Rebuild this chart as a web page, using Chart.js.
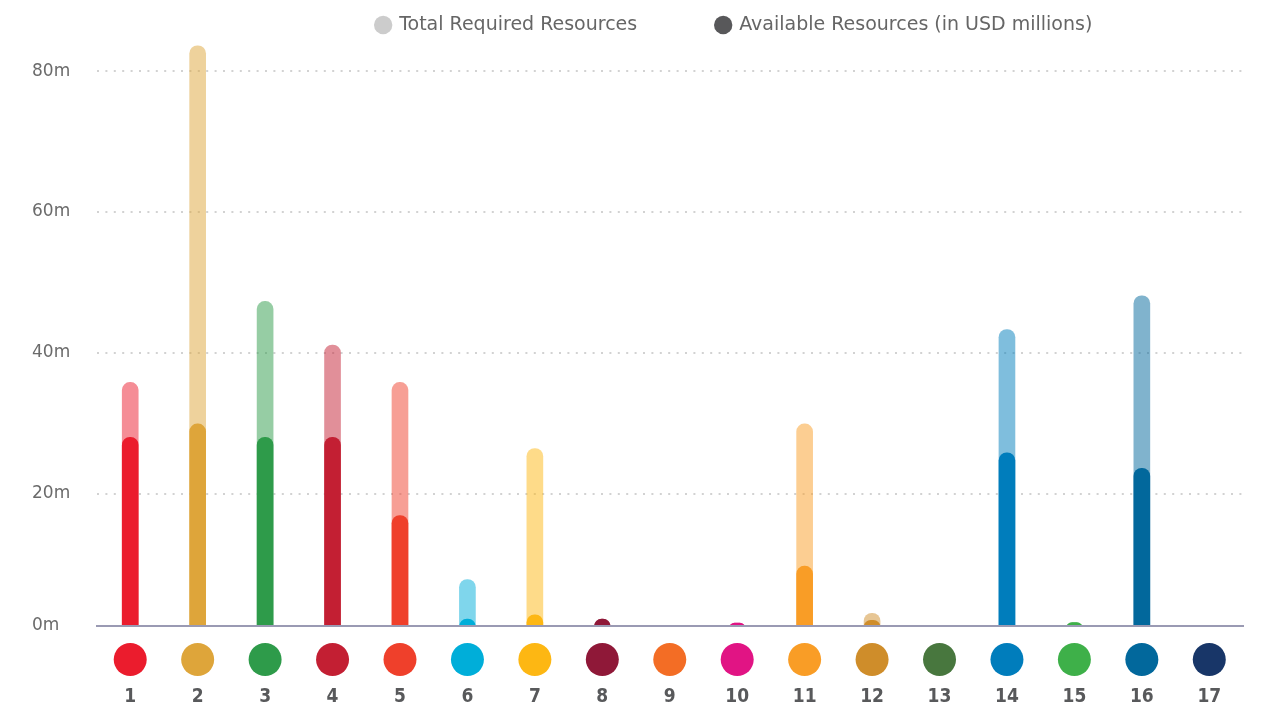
<!DOCTYPE html>
<html>
<head>
<meta charset="utf-8">
<script src="https://cdn.jsdelivr.net/npm/chart.js@4"></script>
<style>
html, body { margin: 0; padding: 0; background: #ffffff; }
canvas { display: block; }
</style>
</head>
<body>
<canvas id="chart" width="1268" height="713"></canvas>
<script>
// ---- data ----
const categories = ['1','2','3','4','5','6','7','8','9','10','11','12','13','14','15','16','17'];
const totalRequired = [35.8, 83.6, 47.3, 41.1, 35.8, 7.8, 26.4, 2.2, 0, 1.6, 29.9, 3.0, 0, 43.3, 1.7, 48.1, 0];
const availableResources = [28.0, 29.9, 28.0, 28.0, 16.9, 2.2, 2.8, 2.2, 0, 1.6, 9.7, 2.0, 0, 25.8, 1.7, 23.6, 0];
const seriesLabels = ['Total Required Resources', 'Available Resources (in USD millions)'];
const yTickValues = [1.2, 20, 40, 60, 80];
const yTickLabels = ['0m', '20m', '40m', '60m', '80m'];

// ---- styles ----
const goalColors = ['#EB1C2D','#DEA53A','#2E9B4A','#C31F33','#EF402B','#00AED9','#FDB713','#8F1838',
                    '#F36D25','#E11484','#F99D26','#CF8D2A','#48773E','#007DBC','#3EB049','#02689C','#183668'];
const legendSwatches = ['#cccccc', '#58585a'];
function fade(hex, a) {
  const n = parseInt(hex.slice(1), 16);
  return 'rgba(' + ((n >> 16) & 255) + ',' + ((n >> 8) & 255) + ',' + (n & 255) + ',' + a + ')';
}
const Y_MIN = yTickValues[0];
const Y_MAX = 85;
const LEGEND_PAD = 79.5;

const goalDots = {
  id: 'goalDots',
  afterDraw(chart) {
    const xs = chart.scales.x;
    const ctx = chart.ctx;
    ctx.save();
    categories.forEach((c, i) => {
      const px = xs.getPixelForValue(i);
      ctx.beginPath();
      ctx.arc(px, xs.top + 33.5, 16.5, 0, Math.PI * 2);
      ctx.fillStyle = goalColors[i];
      ctx.fill();
    });
    ctx.restore();
  }
};

const legendPlacement = {
  id: 'legendPlacement',
  beforeUpdate(chart) {
    const lg = chart.legend;
    if (lg && !lg._patched) {
      const orig = lg.fit;
      lg.fit = function () { orig.call(this); this.height = 36; };
      lg._patched = true;
    }
  },
  afterLayout(chart) {
    const lg = chart.legend;
    lg.left += 97; lg.right += 97;
    lg.top = 15.5 - LEGEND_PAD;
  }
};

new Chart(document.getElementById('chart'), {
  type: 'bar',
  data: {
    labels: categories,
    datasets: [
      {
        label: seriesLabels[0],
        data: totalRequired,
        backgroundColor: goalColors.map(c => fade(c, 0.5)),
        order: 1
      },
      {
        label: seriesLabels[1],
        data: availableResources,
        backgroundColor: goalColors,
        order: 0
      }
    ]
  },
  options: {
    responsive: false,
    devicePixelRatio: 1,
    animation: false,
    layout: { padding: { left: 32, right: 25, top: 0, bottom: 0 } },
    datasets: {
      bar: {
        grouped: false,
        barThickness: 16,
        borderRadius: 8,
        borderSkipped: 'start',
        borderWidth: 0,
        clip: 0
      }
    },
    plugins: {
      tooltip: { enabled: false },
      legend: {
        position: 'top',
        align: 'center',
        labels: {
          usePointStyle: true,
          pointStyle: 'circle',
          boxWidth: 13,
          boxHeight: 13,
          padding: LEGEND_PAD,
          color: '#666666',
          font: { family: 'DejaVu Sans', size: 19 },
          sort: (a, b) => a.datasetIndex - b.datasetIndex,
          generateLabels(chart) {
            const items = Chart.defaults.plugins.legend.labels.generateLabels(chart);
            items.forEach(it => {
              it.fillStyle = legendSwatches[it.datasetIndex];
              it.strokeStyle = legendSwatches[it.datasetIndex];
              it.lineWidth = 0;
            });
            return items;
          }
        }
      }
    },
    scales: {
      x: {
        offset: true,
        grid: {
          display: true,
          drawOnChartArea: false,
          drawTicks: true,
          tickLength: 60,
          tickColor: 'rgba(0,0,0,0)',
          color: 'rgba(0,0,0,0)',
          z: 1
        },
        border: { display: true, color: '#9a9ab3', width: 2, z: 1 },
        ticks: {
          padding: 0,
          color: '#58595b',
          font: { family: 'DejaVu Sans Condensed', size: 19, weight: 'bold' }
        },
        afterFit(axis) { axis.height = 87; }
      },
      y: {
        min: Y_MIN,
        max: Y_MAX,
        afterBuildTicks(axis) { axis.ticks = yTickValues.map(v => ({ value: v })); },
        afterFit(axis) { axis.width = 64.5; },
        grid: {
          drawTicks: false,
          lineWidth: 2,
          color: (ctx) => (ctx.tick && ctx.tick.value === Y_MIN) ? 'rgba(0,0,0,0)' : '#d2d2d2'
        },
        border: { display: false, dash: [2, 6.4] },
        ticks: {
          padding: 0,
          crossAlign: 'far',
          color: '#6b6b6b',
          font: { family: 'DejaVu Sans', size: 17 },
          callback: (v) => yTickLabels[yTickValues.indexOf(v)]
        }
      }
    }
  },
  plugins: [goalDots, legendPlacement]
});
</script>
</body>
</html>
